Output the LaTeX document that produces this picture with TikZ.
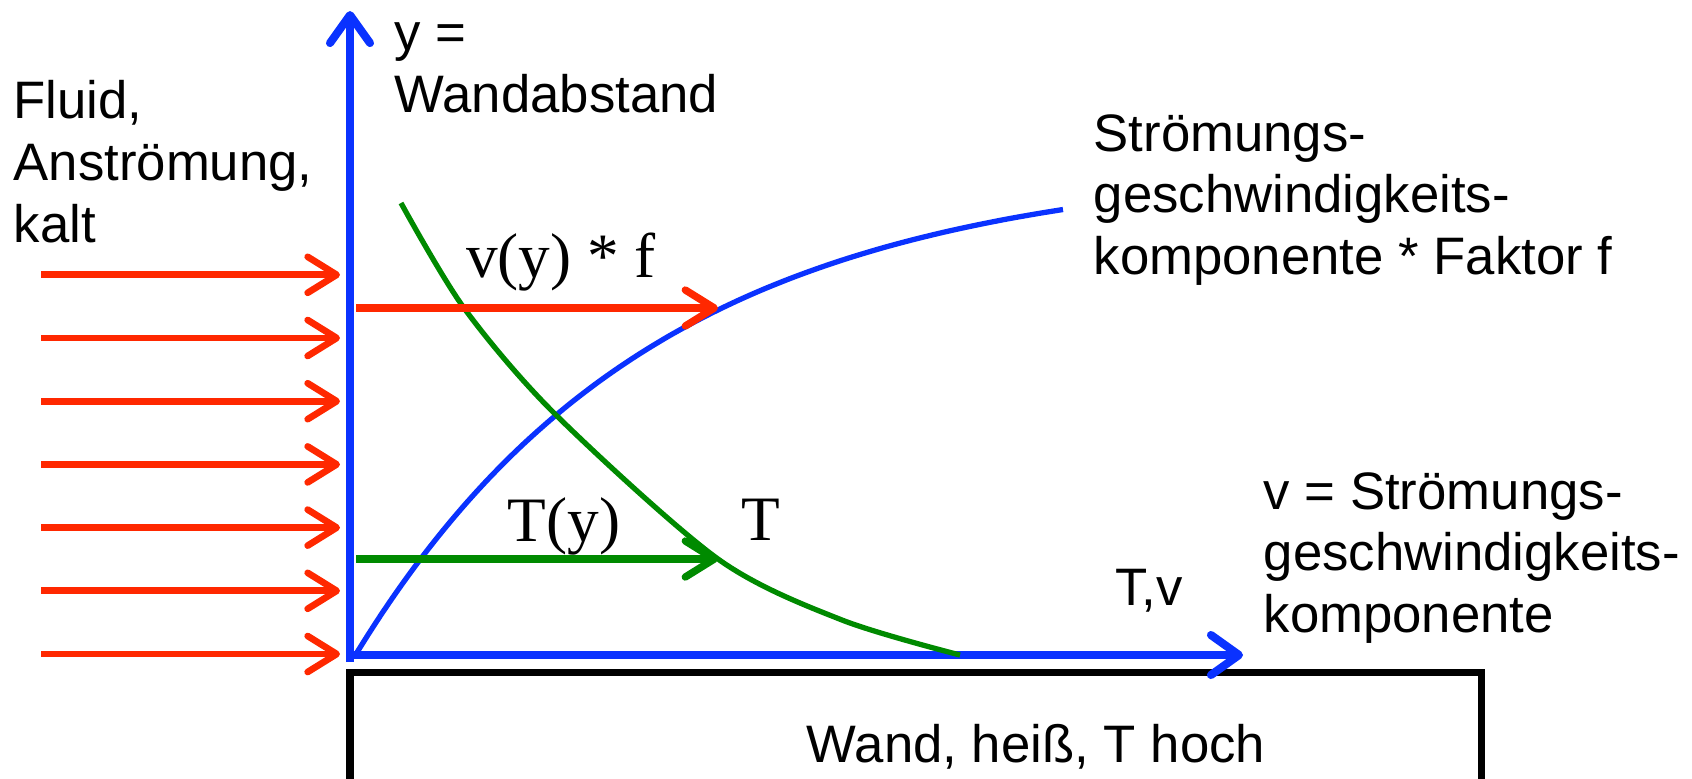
\documentclass[tikz,border=0pt]{standalone}
\usepackage{fontspec}
\setmainfont{Liberation Serif}
\setsansfont{Liberation Sans}
\usetikzlibrary{arrows.meta,positioning}
\definecolor{fluidred}{RGB}{255,40,0}
\definecolor{axisblue}{RGB}{10,50,255}
\definecolor{profgreen}{RGB}{0,138,0}

\begin{document}
\begin{tikzpicture}[
  every node/.style={font=\sffamily\fontsize{15}{17.6}\selectfont, inner sep=0pt},
  lbl/.style={align=left, anchor=west},
  serif/.style={font=\rmfamily\fontsize{18}{21}\selectfont},
  axis/.style={draw=axisblue, line width=2.3pt, -{Straight Barb[length=2.8mm,width=4mm,round]}},
  flow/.style={draw=fluidred, line width=1.9pt, -{Straight Barb[length=2.9mm,width=3.6mm,round]}},
  vprof/.style={draw=fluidred, line width=2.1pt, -{Straight Barb[length=2.9mm,width=3.6mm,round]}},
  tprof/.style={draw=profgreen, line width=2.1pt, -{Straight Barb[length=2.9mm,width=3.6mm,round]}},
  vcurve/.style={draw=axisblue, line width=1.5pt},
  tcurve/.style={draw=profgreen, line width=1.5pt},
  wall/.style={draw=black, line width=2pt}
]
  \useasboundingbox (0,0) rectangle (16.92,7.78);

  % Wand
  \draw[wall] (3.50,-0.3) |- (14.81,1.06) -- (14.81,-0.3);
  \node (wand) at (10.36,0.31) {Wand, heiß, T hoch};

  % Achsen
  \coordinate (O) at (3.50,1.23);
  \coordinate (ybot) at (3.50,1.16);
  \coordinate (ytip) at (3.50,7.67);
  \coordinate (xtip) at (12.43,1.23);
  \draw[axis] (ybot) -- (ytip);
  \draw[axis] (O) -- (xtip);

  % Anstroemung
  \foreach \k in {0,...,6} {
    \coordinate (in\k) at (0.41,{1.24+0.632*\k});
    \coordinate (out\k) at (3.40,{1.24+0.632*\k});
    \draw[flow] (in\k) -- (out\k);
  }

  % Profile
  \draw[vcurve] plot[domain=3.56:10.63, samples=60, smooth] (\x,{1.24+4.91*(1-exp(-(\x-3.56)/3))});
  \draw[tcurve] plot[smooth] coordinates {(4.01,5.75) (4.64,4.70) (5.56,3.63) (7.18,2.19) (8.42,1.58) (9.60,1.23)};

  \coordinate (vstart) at (3.56,4.70);
  \coordinate (vend) at (7.18,4.70);
  \coordinate (tstart) at (3.56,2.19);
  \coordinate (tend) at (7.18,2.19);
  \draw[vprof] (vstart) -- (vend);
  \draw[tprof] (tstart) -- (tend);

  % Beschriftung
  \node[lbl] (yname) at (3.94,7.10) {y =\\Wandabstand};
  \node[lbl] (fluid) at (0.13,6.16) {Fluid,\\Anströmung,\\kalt};
  \node[lbl] (vfaktor) at (10.93,5.78) {Strömungs-\\geschwindigkeits-\\komponente * Faktor f};
  \node[lbl] (vname) at (12.63,2.20) {v = Strömungs-\\geschwindigkeits-\\komponente};
  \node (tv) at (11.49,1.87) {T,v};
  \node[serif] (vlab) at (5.61,5.16) {v(y) * f};
  \node[serif] (tylab) at (5.64,2.52) {T(y)};
  \node[serif] (tlab) at (7.61,2.58) {T};
\end{tikzpicture}
\end{document}
